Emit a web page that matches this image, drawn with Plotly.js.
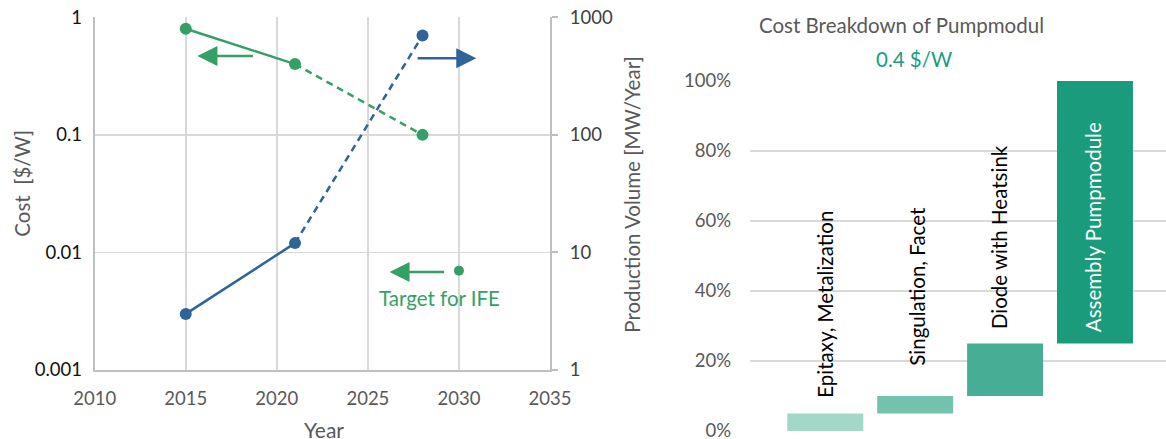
<!DOCTYPE html>
<html><head><meta charset="utf-8">
<script src="https://cdn.plot.ly/plotly-3.0.1.min.js"></script>
<style>html,body{margin:0;padding:0;background:#fff}#chart{width:1166px;height:439px}</style>
</head><body><div id="chart"></div>
<script>
// ---- data: left chart ----
const years = [2015, 2021, 2028];
const costPerWatt = [0.8, 0.4, 0.1];          // $/W (left axis)
const productionVolume = [3, 12, 700];       // MW/Year (right axis)
const targetYear = [2030];
const targetCost = [0.007];
const costTicks = [0.001, 0.01, 0.1, 1];
const costTickText = ['0.001', '0.01', '0.1', '1'];
const volTicks = [1, 10, 100, 1000];
const volTickText = ['1', '10', '100', '1000'];
const yearTicks = [2010, 2015, 2020, 2025, 2030, 2035];

// ---- data: right chart (cost breakdown) ----
const steps = ['Epitaxy, Metalization', 'Singulation, Facet', 'Diode with Heatsink', 'Assembly Pumpmodule'];
const stepStart = [0, 0.05, 0.10, 0.25];
const stepEnd = [0.05, 0.10, 0.25, 1.00];
const pctTicks = [0, 0.2, 0.4, 0.6, 0.8, 1.0];
const pctTickText = ['0%', '20%', '40%', '60%', '80%', '100%'];

const GREEN = '#35a066', BLUE = '#2f6499', TEAL = '#1a9c7c';
const FONT = 'Lato, "Open Sans", sans-serif';
const GRAY = '#595959', GRID = '#d9d9d9', AXIS = '#bfbfbf';
const W = 1166, H = 439;

const solidIdx = [0, 1], dashIdx = [1, 2];
const pick = (arr, idx) => idx.map(i => arr[i]);
const DASH = '7px,5px';

const traces = [
  {x: pick(years, solidIdx), y: pick(costPerWatt, solidIdx), mode: 'lines', line: {color: GREEN, width: 2.5}, xaxis: 'x', yaxis: 'y'},
  {x: pick(years, dashIdx), y: pick(costPerWatt, dashIdx), mode: 'lines', line: {color: GREEN, width: 2.5, dash: DASH}, xaxis: 'x', yaxis: 'y'},
  {x: years, y: costPerWatt, mode: 'markers', marker: {color: GREEN, size: 12}, xaxis: 'x', yaxis: 'y'},
  {x: targetYear, y: targetCost, mode: 'markers', marker: {color: GREEN, size: 10}, xaxis: 'x', yaxis: 'y'},
  {x: pick(years, solidIdx), y: pick(productionVolume, solidIdx), mode: 'lines', line: {color: BLUE, width: 2.5}, xaxis: 'x', yaxis: 'y2'},
  {x: pick(years, dashIdx), y: pick(productionVolume, dashIdx), mode: 'lines', line: {color: BLUE, width: 2.5, dash: DASH}, xaxis: 'x', yaxis: 'y2'},
  {x: years, y: productionVolume, mode: 'markers', marker: {color: BLUE, size: 12}, xaxis: 'x', yaxis: 'y2'},
  {type: 'bar', x: steps.map((_, i) => i), y: stepEnd.map((e, i) => e - stepStart[i]), base: stepStart,
   width: 0.845, marker: {color: ['#a3d7c8', '#72c2ad', '#45ae94', '#1a9c7c'], line: {width: 0}},
   xaxis: 'x3', yaxis: 'y3'}
];

const C = {xanchor: 'center', yanchor: 'middle', showarrow: false};
const barLabelShift = [13.5, 28, 12.5];
const barLabelX = [-1, 1, -6, -2];
const annotations = [];
steps.forEach((s, i) => {
  if (i < 3) {
    annotations.push({xref: 'x3', yref: 'y3', x: i, y: stepEnd[i], yanchor: 'bottom', xanchor: 'center', yshift: barLabelShift[i],
      xshift: barLabelX[i], text: s, showarrow: false, textangle: -90, font: {family: FONT, size: 20.5, color: '#000'}});
  } else {
    annotations.push({xref: 'x3', yref: 'y3', x: i, y: (stepStart[i] + stepEnd[i]) / 2, yanchor: 'middle', xanchor: 'center', yshift: -15,
      xshift: barLabelX[i], text: s, showarrow: false, textangle: -90, font: {family: FONT, size: 20.5, color: '#fff'}});
  }
});
// arrows on the left chart
const arrow = (xTip, xTail, val, color) => ({xref: 'x', yref: 'y', x: xTip, y: Math.log10(val), axref: 'x', ayref: 'y', ax: xTail, ay: Math.log10(val),
  text: '', showarrow: true, arrowhead: 2, arrowsize: 1.6, arrowwidth: 2.5, arrowcolor: color});
annotations.push(arrow(2015.64, 2018.77, 0.469, GREEN));
annotations.push(arrow(2030.95, 2027.65, 0.448, BLUE));
annotations.push(arrow(2026.19, 2029.27, 0.0068, GREEN));
annotations.push(Object.assign({xref: 'paper', yref: 'paper', x: 439.7 / W, y: 1 - 298.3 / H, text: 'Target for IFE',
  font: {family: FONT, size: 20.5, color: GREEN}}, C));
// axis titles and chart titles
annotations.push(Object.assign({xref: 'paper', yref: 'paper', x: 21.7 / W, y: 1 - 183 / H, text: 'Cost  [$/W]', textangle: -90,
  font: {family: FONT, size: 20.5, color: GRAY}}, C));
annotations.push(Object.assign({xref: 'paper', yref: 'paper', x: 631.7 / W, y: 1 - 194 / H, text: 'Production Volume [MW/Year]', textangle: -90,
  font: {family: FONT, size: 20.5, color: GRAY}}, C));
annotations.push(Object.assign({xref: 'paper', yref: 'paper', x: 323.7 / W, y: 1 - 429.3 / H, text: 'Year',
  font: {family: FONT, size: 21, color: GRAY}}, C));
annotations.push(Object.assign({xref: 'paper', yref: 'paper', x: 901 / W, y: 1 - 25 / H, text: 'Cost Breakdown of Pumpmodul',
  font: {family: FONT, size: 20.5, color: GRAY}}, C));
annotations.push(Object.assign({xref: 'paper', yref: 'paper', x: 914 / W, y: 1 - 59.3 / H, text: '0.4 $/W',
  font: {family: FONT, size: 20.5, color: TEAL}}, C));

const tickFont = {family: FONT, size: 18.5, color: GRAY};
const layout = {
  width: W, height: H, margin: {l: 0, r: 0, t: 0, b: 0}, showlegend: false,
  paper_bgcolor: '#fff', plot_bgcolor: 'rgba(0,0,0,0)', font: {family: FONT},
  xaxis: {domain: [94.7 / W, 550 / W], range: [2010, 2035], tickvals: yearTicks, showgrid: true, gridcolor: GRID, gridwidth: 1.5,
    showline: true, linecolor: AXIS, linewidth: 2, zeroline: false, tickfont: tickFont, ticks: '', ticklabelstandoff: 11, automargin: false, anchor: 'y'},
  yaxis: {domain: [1 - 370 / H, 1 - 17.3 / H], type: 'log', range: [-3, 0], tickvals: costTicks, ticktext: costTickText,
    showgrid: true, gridcolor: GRID, gridwidth: 1.5, showline: true, linecolor: AXIS, linewidth: 2, zeroline: false,
    tickfont: {family: FONT, size: 18.5, color: '#111'}, ticks: '', ticklabelstandoff: 7, automargin: false, anchor: 'x'},
  yaxis2: {overlaying: 'y', side: 'right', type: 'log', range: [0, 3], tickvals: volTicks, ticktext: volTickText, showgrid: false,
    showline: true, linecolor: AXIS, linewidth: 2, zeroline: false, ticks: 'outside', ticklen: 6, tickcolor: AXIS, tickwidth: 2,
    tickfont: {family: FONT, size: 18.5, color: '#404040'}, ticklabelstandoff: 8, automargin: false, anchor: 'x'},
  xaxis3: {domain: [750 / W, 1], range: [-0.8377, 3.79], showgrid: false, showticklabels: false, zeroline: false, showline: false, anchor: 'y3', fixedrange: true},
  yaxis3: {domain: [1 - 431.7 / H, 1 - 80.3 / H], range: [-0.002, 1.002], tickvals: pctTicks, ticktext: pctTickText, showgrid: true,
    gridcolor: GRID, gridwidth: 1.5, zeroline: false, showline: false, tickfont: tickFont, ticks: '', ticklabelstandoff: 18,
    ticklabeloverflow: 'allow', automargin: false, anchor: 'x3'},
  annotations: annotations
};
Plotly.newPlot('chart', traces, layout, {staticPlot: true, displayModeBar: false});
</script></body></html>
